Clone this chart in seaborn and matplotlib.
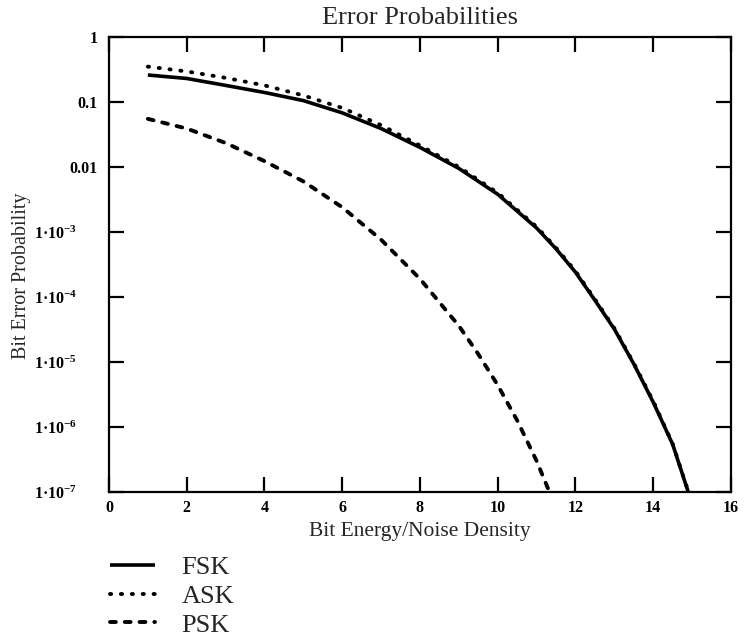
import numpy as np
import pandas as pd
import matplotlib
matplotlib.use("Agg")
import matplotlib.pyplot as plt
import seaborn as sns

# valores (Eb/N0 x probabilidade de erro)
snr = [1, 2, 3, 4, 5, 6, 7, 8, 9, 10, 11, 11.5, 12, 12.5, 13, 13.5, 14, 14.5, 14.9]
fsk = [0.26, 0.23, 0.18, 0.14, 0.105, 0.068, 0.039, 0.020, 0.0095, 0.0038,
       0.00115, 5.5e-4, 2.4e-4, 8.9e-5, 3.2e-5, 9.3e-6, 2.4e-6, 5.4e-7, 1.0e-7]
ask = [0.35, 0.295, 0.235, 0.18, 0.126, 0.081, 0.044, 0.0214, 0.0100, 0.0040,
       0.00120, 5.7e-4, 2.5e-4, 9.2e-5, 3.3e-5, 9.6e-6, 2.5e-6, 5.5e-7, 1.02e-7]

snr_psk = [1, 2, 3, 4, 5, 6, 7, 8, 9, 9.5, 10, 10.5, 11, 11.33]
psk = [0.055, 0.039, 0.0234, 0.0123, 0.0060, 0.0024, 7.6e-4, 1.9e-4, 3.6e-5,
       1.32e-5, 4.4e-6, 1.26e-6, 3.0e-7, 1.0e-7]

xticks = [0, 2, 4, 6, 8, 10, 12, 14, 16]
yticks = [1, 0.1, 0.01, 1e-3, 1e-4, 1e-5, 1e-6, 1e-7]
ylabels = ["1", "0.1", "0.01"] + ["1·10$^{-%d}$" % k + "      " for k in range(3, 8)]

sns.set_theme(style="ticks")
plt.rcParams['font.family'] = ['Liberation Serif', 'DejaVu Serif']
plt.rcParams['mathtext.fontset'] = 'custom'
plt.rcParams['mathtext.rm'] = 'Liberation Serif:bold'
plt.rcParams['mathtext.it'] = 'Liberation Serif:italic'
plt.rcParams['mathtext.bf'] = 'Liberation Serif:bold'

fig = plt.figure(figsize=(7.45, 6.41), dpi=100)
ax = fig.add_axes([0.1463, 0.2325, 0.9812 - 0.1463, 0.9423 - 0.2325])

df_fsk = pd.DataFrame({'x': snr, 'y': fsk})
df_ask = pd.DataFrame({'x': snr, 'y': ask})
df_psk = pd.DataFrame({'x': snr_psk, 'y': psk})

sns.lineplot(data=df_fsk, x='x', y='y', ax=ax, color='black', lw=2.6,
             label='FSK', solid_capstyle='butt')
sns.lineplot(data=df_ask, x='x', y='y', ax=ax, color='black', lw=2.8,
             linestyle=(0, (0.3, 2.5)), dash_capstyle='round', label='ASK')
sns.lineplot(data=df_psk, x='x', y='y', ax=ax, color='black', lw=2.8,
             linestyle=(0, (1.5, 2.3)), dash_capstyle='round', label='PSK')

ax.set_yscale('log')
ax.set_xlim(0, 16)
ax.set_ylim(1e-7, 1)
ax.set_xticks(xticks)
ax.set_xticklabels([str(t) for t in xticks], fontweight='bold')
ax.set_yticks(yticks)
ax.set_yticklabels(ylabels, fontweight='bold')
ax.yaxis.set_minor_locator(matplotlib.ticker.NullLocator())

ax.tick_params(axis='both', direction='in', length=11, width=1.6,
               colors='black', labelsize=11.5, top=True, right=True)
ax.tick_params(axis='x', pad=6)
ax.tick_params(axis='y', pad=8)
for s in ax.spines.values():
    s.set_linewidth(1.6)
    s.set_color('black')

ax.set_title('Error Probabilities', fontsize=19, pad=9)
ax.set_xlabel('Bit Energy/Noise Density', fontsize=15.5, labelpad=4)
ax.set_ylabel('Bit Error Probability', fontsize=14.5)
ax.yaxis.set_label_coords(-0.125, 0.475)

ax.legend(loc='upper left', bbox_to_anchor=(0.148, 0.133), bbox_transform=fig.transFigure,
          frameon=False, fontsize=19, handlelength=1.7, handletextpad=1.0,
          labelspacing=0.2, borderaxespad=0, borderpad=0)

fig.savefig('out.png', dpi=100, facecolor='white')
